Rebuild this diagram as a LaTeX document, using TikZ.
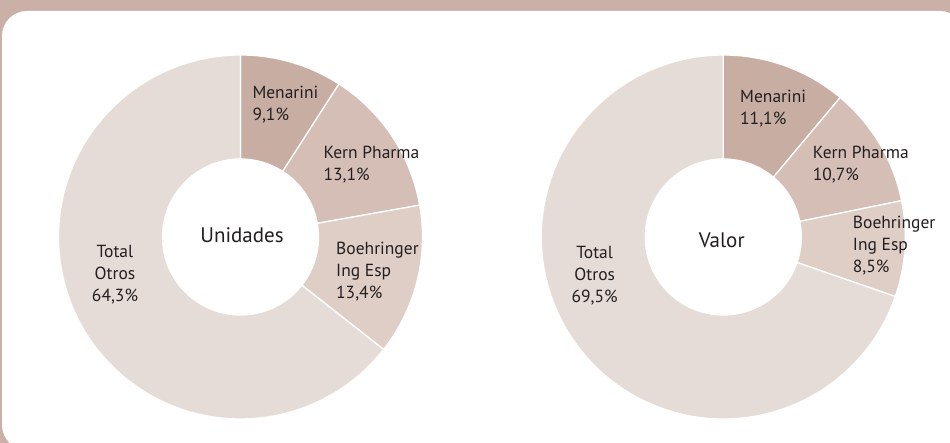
\documentclass[tikz,border=0pt]{standalone}
\usepackage{fontspec}
\setmainfont{PT Sans}
\usepackage{xcolor}
\usetikzlibrary{calc}

\definecolor{bandtan}{HTML}{CBB0A7}
\definecolor{menarini}{HTML}{C8ADA3}
\definecolor{kern}{HTML}{D4BEB5}
\definecolor{boehr}{HTML}{DFCEC6}
\definecolor{otros}{HTML}{E6DCD7}
\definecolor{ink}{HTML}{231F20}

% one piece of a ring: centre, from angle, to angle, colour
\newcommand{\ringpart}[4]{%
  \filldraw[seg, fill=#4] ($(#1)+(#2:182)$)
    arc[start angle=#2, end angle=#3, radius=182]
    -- ($(#1)+(#3:78)$)
    arc[start angle=#3, end angle=#2, radius=78] -- cycle;}

\begin{document}
\begin{tikzpicture}[x=1pt, y=1pt,
    seg/.style={draw=white, line width=1.3pt},
    lbl/.style={font=\fontsize{17.5}{22}\selectfont, text=ink,
        inner sep=0pt, align=left, anchor=base west},
    tot/.style={lbl, align=center, anchor=base},
    hole/.style={font=\fontsize{21}{22}\selectfont, text=ink,
        inner sep=0pt, anchor=base},
]
\useasboundingbox (0,0) rectangle (950,443);

% ---- frame ----
\fill[bandtan] (0,0) rectangle (950,443);
\fill[white, rounded corners=25pt] (2,-7) rectangle (965,432);

% ---- Unidades ring ----
\coordinate (uc) at (240.5,206);
\ringpart{uc}{90}{57.24}{menarini}
\ringpart{uc}{57.24}{10.08}{kern}
\ringpart{uc}{10.08}{-38.16}{boehr}
\ringpart{uc}{-38.16}{-270}{otros}

% labels sit on the baseline of their last line
\node[hole] (unid) at (242,200) {Unidades};
\node[lbl] (umen) at (252.3,322.7) {Menarini\\9,1\%};
\node[lbl] (uker) at (323.3,262) {Kern Pharma\\13,1\%};
\node[lbl] (uboe) at (336,144) {Boehringer\\Ing Esp\\13,4\%};
\node[tot] (uotr) at (115,141) {Total\\Otros\\64,3\%};

% ---- Valor ring ----
\coordinate (vc) at (723.3,206);
\ringpart{vc}{90}{50.04}{menarini}
\ringpart{vc}{50.04}{11.52}{kern}
\ringpart{vc}{11.52}{-19.08}{boehr}
\ringpart{vc}{-19.08}{-270}{otros}

\node[hole] (valor) at (721.7,195.7) {Valor};
\node[lbl] (vmen) at (740,318.3) {Menarini\\11,1\%};
\node[lbl] (vker) at (812.7,262) {Kern Pharma\\10,7\%};
\node[lbl] (vboe) at (852.7,170.7) {Boehringer\\Ing Esp\\8,5\%};
\node[tot] (votr) at (594.7,140.7) {Total\\Otros\\69,5\%};

\end{tikzpicture}
\end{document}
